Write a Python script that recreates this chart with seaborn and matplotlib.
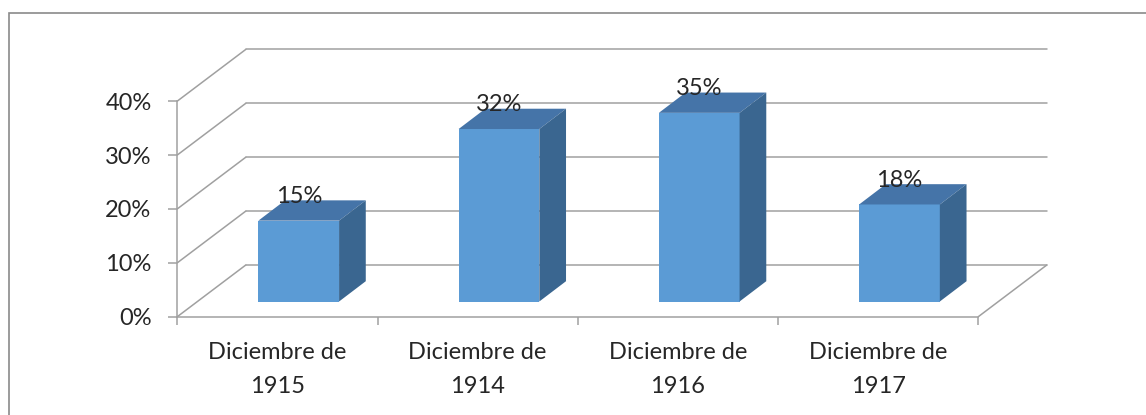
import matplotlib.pyplot as plt
import seaborn as sns
from matplotlib.patches import Polygon, Rectangle

categories = ['Diciembre de\n1915', 'Diciembre de\n1914', 'Diciembre de\n1916', 'Diciembre de\n1917']
values = [15, 32, 35, 18]
y_ticks = [0, 10, 20, 30, 40]
y_labels = ['0%', '10%', '20%', '30%', '40%']

FRONT = '#5b9bd5'
TOP = '#4574a8'
SIDE = '#3a6690'
GRID = '#a0a0a0'
FS = 17

W, H = 1146, 415
x0_px, y0_px = 177.3, 316.7      # front-left corner of the floor
ux, uy = 200.25, 5.39            # px per category / per percent
right_px, top_px = 1060, 40

# 3d offsets, converted to data units
floor_dx, floor_dy = 68.5 / ux, 51.7 / uy
bar_ox, bar_oy = 21.3 / ux, 15.2 / uy
bar_dx, bar_dy = 26.7 / ux, 20.3 / uy

sns.set_style('white')
plt.rcParams['font.family'] = ['Lato', 'DejaVu Sans']

fig = plt.figure(figsize=(W / 100, H / 100), dpi=100)
ax = fig.add_axes([x0_px / W, (H - y0_px) / H, (right_px - x0_px) / W, (y0_px - top_px) / H])
ax.patch.set_alpha(0)

sns.barplot(x=categories, y=values, color=FRONT, saturation=1, width=80.7 / ux,
            ax=ax, zorder=3)

# push bars back into the depth and add top / side faces
bars = ax.containers[0]
for p in bars.patches:
    p.set_x(p.get_x() + bar_ox)
    p.set_y(bar_oy)
    p.set_linewidth(0)
    x, y, w, h = p.get_x(), p.get_y(), p.get_width(), p.get_height()
    top = [(x, y + h), (x + w, y + h), (x + w + bar_dx, y + h + bar_dy), (x + bar_dx, y + h + bar_dy)]
    side = [(x + w, y), (x + w, y + h), (x + w + bar_dx, y + h + bar_dy), (x + w + bar_dx, y + bar_dy)]
    ax.add_patch(Polygon(top, closed=True, fc=TOP, ec='none', zorder=3))
    ax.add_patch(Polygon(side, closed=True, fc=SIDE, ec='none', zorder=3))

ax.bar_label(bars, labels=[f'{v}%' for v in values], padding=10, fontsize=FS, zorder=5)

# walls and floor
left, right = -0.5, len(categories) - 0.5
for v in y_ticks:
    ax.plot([left, left + floor_dx], [v, v + floor_dy], color=GRID, lw=1.1, zorder=1)
    ax.plot([left + floor_dx, right + floor_dx], [v + floor_dy, v + floor_dy], color=GRID, lw=1.1, zorder=1)
ax.plot([right, right + floor_dx], [0, floor_dy], color=GRID, lw=1.1, zorder=1)

ax.set_xlim(left, left + (right_px - x0_px) / ux)
ax.set_ylim(0, (y0_px - top_px) / uy)

for side_name in ['top', 'right']:
    ax.spines[side_name].set_visible(False)
ax.spines['left'].set_bounds(0, 40)
ax.spines['bottom'].set_bounds(left, right)
for side_name in ['left', 'bottom']:
    ax.spines[side_name].set_color(GRID)
    ax.spines[side_name].set_linewidth(1.1)
    ax.spines[side_name].set_zorder(2)

ax.set_yticks(y_ticks, y_labels)
ax.tick_params(axis='y', left=True, length=6.5, width=1.1, color=GRID, pad=12, labelsize=FS)
ax.set_xticks([i - 0.5 for i in range(len(categories) + 1)], minor=True)
ax.tick_params(axis='x', which='minor', bottom=True, length=6, width=1.1, color=GRID)
ax.tick_params(axis='x', which='major', bottom=False, length=0, pad=18.5, labelsize=FS)
for lab in ax.get_xticklabels():
    lab.set_linespacing(1.72)
ax.set_xlabel('')
ax.set_ylabel('')

# chart area border (cut by the image edge on the right and bottom)
fig.add_artist(Rectangle((8.5 / W, -0.05), 1.1, 1 - 13.5 / H + 0.05, transform=fig.transFigure,
                         fill=False, ec='#8a8a8a', lw=1.2))

fig.savefig('out.png', dpi=100)
